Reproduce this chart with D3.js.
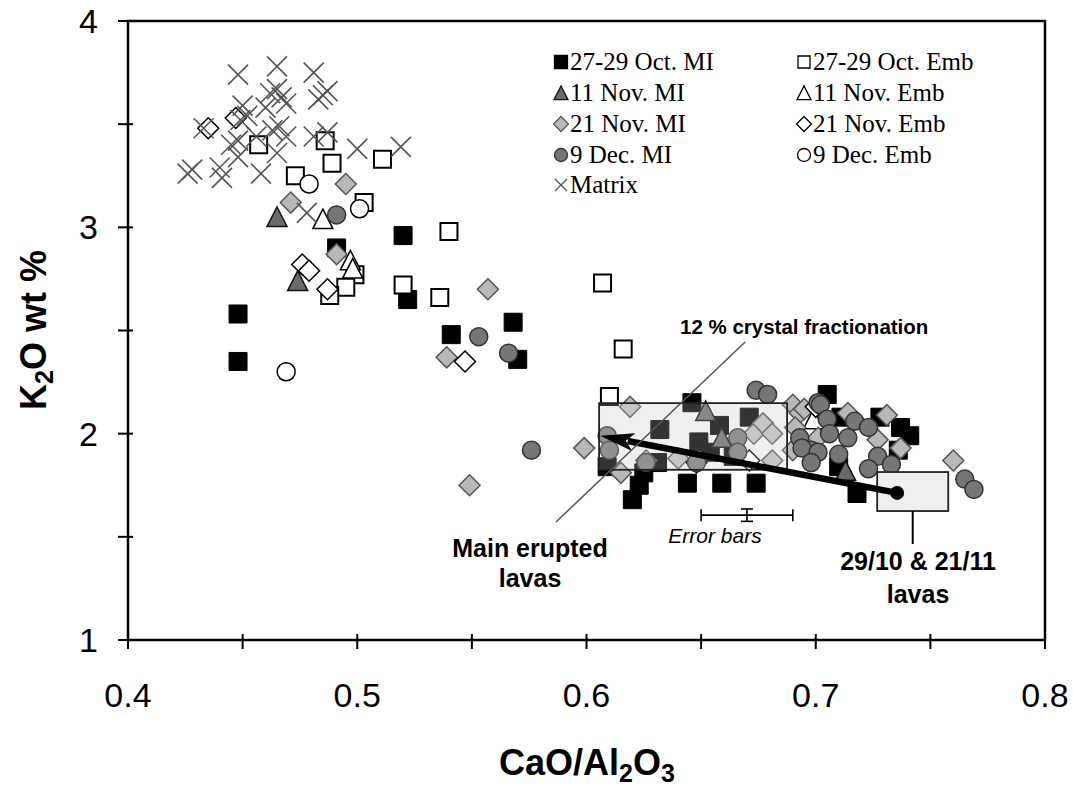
<!DOCTYPE html>
<html><head><meta charset="utf-8">
<script src="https://cdn.jsdelivr.net/npm/d3@7"></script>
<style>body{margin:0;background:#fff}</style>
</head><body><svg id="c" width="1073" height="788"></svg>
<script>
// ---- data (CaO/Al2O3, K2O wt %) ----
const octMI = [[0.448,2.58],[0.448,2.35],[0.491,2.90],[0.522,2.65],[0.520,2.96],[0.541,2.48],[0.568,2.54],[0.570,2.36],
 [0.609,1.84],[0.620,1.68],[0.623,1.75],[0.632,2.02],[0.646,2.15],[0.644,1.76],[0.659,1.76],[0.674,1.76],[0.671,2.08],[0.658,2.04],
 [0.649,1.96],[0.654,1.91],[0.664,1.89],[0.631,1.86],[0.625,1.81],[0.705,2.19],[0.718,1.71],[0.741,1.99],[0.737,2.03],[0.728,2.08],
 [0.736,1.92],[0.710,1.84],[0.711,2.08]];
const octEmb = [[0.457,3.40],[0.486,3.42],[0.473,3.25],[0.489,3.31],[0.511,3.33],[0.503,3.12],[0.499,2.77],[0.495,2.71],[0.488,2.67],
 [0.520,2.72],[0.536,2.66],[0.540,2.98],[0.607,2.73],[0.616,2.41],[0.610,2.18]];
const nov11MI = [[0.465,3.05],[0.474,2.74],[0.652,2.11],[0.659,1.98],[0.713,1.82]];
const nov11Emb = [[0.485,3.04],[0.497,2.84],[0.498,2.80],[0.699,2.07]];
const nov21MI = [[0.495,3.21],[0.471,3.12],[0.491,2.87],[0.539,2.37],[0.557,2.70],[0.549,1.75],[0.599,1.93],[0.619,2.13],
 [0.673,2.00],[0.677,2.05],[0.681,2.00],[0.681,1.87],[0.690,2.14],[0.693,2.10],[0.626,1.87],[0.615,1.81],[0.695,2.12],[0.691,2.03],
 [0.714,2.10],[0.731,2.09],[0.727,1.97],[0.737,1.93],[0.760,1.87],[0.701,1.98],[0.640,1.88],[0.690,1.92]];
const nov21Emb = [[0.435,3.48],[0.447,3.53],[0.476,2.82],[0.479,2.79],[0.487,2.70],[0.547,2.35],[0.648,1.86],[0.671,1.87],[0.700,2.13]];
const decMI = [[0.491,3.06],[0.553,2.47],[0.566,2.39],[0.576,1.92],
 [0.674,2.21],[0.679,2.19],[0.666,1.98],[0.609,1.99],[0.610,1.92],[0.626,1.86],[0.648,1.86],[0.666,1.91],[0.693,1.98],[0.698,1.92],
 [0.701,2.15],[0.702,2.14],[0.705,2.07],[0.706,2.00],[0.717,2.06],[0.723,2.03],[0.714,1.98],[0.694,1.93],[0.701,1.91],[0.710,1.90],
 [0.698,1.86],[0.727,1.89],[0.723,1.83],[0.733,1.85],[0.765,1.78],[0.769,1.73]];
const decEmb = [[0.479,3.21],[0.501,3.09],[0.469,2.30]];
const matrix = [[0.448,3.74],[0.465,3.78],[0.481,3.75],[0.483,3.62],[0.485,3.64],[0.487,3.66],[0.450,3.59],[0.462,3.65],[0.465,3.67],
 [0.467,3.63],[0.469,3.60],[0.460,3.58],[0.433,3.48],[0.449,3.52],[0.452,3.54],[0.445,3.40],[0.448,3.42],[0.456,3.44],[0.463,3.47],
 [0.466,3.49],[0.469,3.44],[0.481,3.44],[0.487,3.46],[0.500,3.38],[0.519,3.39],[0.426,3.26],[0.428,3.28],[0.441,3.24],[0.440,3.29],
 [0.448,3.34],[0.458,3.26],[0.465,3.36],[0.478,3.07]];
const seriesNames = ["27-29 Oct. MI","27-29 Oct. Emb","11 Nov. MI","11 Nov. Emb","21 Nov. MI","21 Nov. Emb","9 Dec. MI","9 Dec. Emb","Matrix"];
const xTicks = [0.4,0.5,0.6,0.7,0.8];
const yTicks = [1,2,3,4];
const xMinor = [0.45,0.55,0.65,0.75];
const yMinor = [1.5,2.5,3.5];
// annotation values
const mainLavas = {x0:0.6055, x1:0.6875, y0:1.825, y1:2.148};
const lavas2910 = {x0:0.7268, x1:0.7578, y0:1.625, y1:1.814};
const fracStart = [0.7355,1.713], fracEnd = [0.606,1.99];
const leader = [[0.6692,2.444],[0.5867,1.572]];
const errCenter = [0.670,1.605], errX = 0.02, errY = 0.03;

// ---- drawing ----
const svg = d3.select('#c');
const x = d3.scaleLinear().domain([0.4,0.8]).range([128,1045]);
const y = d3.scaleLinear().domain([1,4]).range([640,21]);
const SANS = "'Liberation Sans', Arial, sans-serif";
const SERIF = "'Liberation Serif', 'Times New Roman', serif";

function shape(type, s){
  const r = s/2;
  if(type==='square') return `M${-r},${-r}h${s}v${s}h${-s}Z`;
  if(type==='diamond') return `M0,${-r}L${r},0L0,${r}L${-r},0Z`;
  if(type==='triangle') return `M0,${-r}L${r},${r*0.95}L${-r},${r*0.95}Z`;
  if(type==='circle') return d3.symbol(d3.symbolCircle, Math.PI*r*r)();
  if(type==='cross') return `M${-r},${-r}L${r},${r}M${r},${-r}L${-r},${r}`;
}
const styles = [
  {data:octMI, type:'square', s:18, fill:'#000', stroke:'#000', sw:1, ls:13},
  {data:octEmb, type:'square', s:17, fill:'#fff', stroke:'#000', sw:2, ls:12},
  {data:nov11MI, type:'triangle', s:20, fill:'#6a6a6a', stroke:'#111', sw:1.5, ls:14},
  {data:nov11Emb, type:'triangle', s:20, fill:'#fff', stroke:'#000', sw:1.5, ls:14},
  {data:nov21MI, type:'diamond', s:21, fill:'#b8b8b8', stroke:'#555', sw:1.5, ls:15},
  {data:nov21Emb, type:'diamond', s:21, fill:'#fff', stroke:'#000', sw:1.5, ls:15},
  {data:decMI, type:'circle', s:18, fill:'#767676', stroke:'#333', sw:1.5, ls:13},
  {data:decEmb, type:'circle', s:18, fill:'#fff', stroke:'#000', sw:1.5, ls:13},
  {data:matrix, type:'cross', s:20, fill:'none', stroke:'#555', sw:1.6, ls:12}
];

// main erupted lavas box background
svg.append('rect').attr('x',x(mainLavas.x0)).attr('y',y(mainLavas.y1))
  .attr('width',x(mainLavas.x1)-x(mainLavas.x0)).attr('height',y(mainLavas.y0)-y(mainLavas.y1))
  .attr('fill','#ececec');

// points
styles.forEach(st=>{
  svg.append('g').selectAll('path').data(st.data).join('path')
    .attr('transform',d=>`translate(${x(d[0])},${y(d[1])})`)
    .attr('d',shape(st.type,st.s))
    .attr('fill',st.fill).attr('stroke',st.stroke).attr('stroke-width',st.sw);
});

// overlay of main lavas box
svg.append('rect').attr('x',x(mainLavas.x0)).attr('y',y(mainLavas.y1))
  .attr('width',x(mainLavas.x1)-x(mainLavas.x0)).attr('height',y(mainLavas.y0)-y(mainLavas.y1))
  .attr('fill','#fff').attr('fill-opacity',0.2).attr('stroke','#222').attr('stroke-width',1.8);

// 29/10 & 21/11 lavas box
svg.append('rect').attr('x',x(lavas2910.x0)).attr('y',y(lavas2910.y1))
  .attr('width',x(lavas2910.x1)-x(lavas2910.x0)).attr('height',y(lavas2910.y0)-y(lavas2910.y1))
  .attr('fill','#efefef').attr('stroke','#222').attr('stroke-width',1.8);
// leader from that box
svg.append('line').attr('x1',x((lavas2910.x0+lavas2910.x1)/2)).attr('x2',x((lavas2910.x0+lavas2910.x1)/2))
  .attr('y1',y(lavas2910.y0)).attr('y2',y(lavas2910.y0)+33).attr('stroke','#000').attr('stroke-width',2);

// fractionation arrow
{
  const sx=x(fracStart[0]), sy=y(fracStart[1]), ex=x(fracEnd[0]), ey=y(fracEnd[1]);
  const ang=Math.atan2(ey-sy, ex-sx);
  const L=34, hw=9;
  const bx=ex-L*Math.cos(ang), by=ey-L*Math.sin(ang);
  svg.append('line').attr('x1',sx).attr('y1',sy).attr('x2',bx+6*Math.cos(ang)).attr('y2',by+6*Math.sin(ang))
    .attr('stroke','#000').attr('stroke-width',6.5);
  const px=-Math.sin(ang), py=Math.cos(ang);
  svg.append('path').attr('d',`M${ex},${ey}L${bx+hw*px},${by+hw*py}L${bx+8*Math.cos(ang)},${by+8*Math.sin(ang)}L${bx-hw*px},${by-hw*py}Z`)
    .attr('fill','#000');
  svg.append('circle').attr('cx',sx).attr('cy',sy).attr('r',7).attr('fill','#000');
}
// leader line for 12 % label
svg.append('line').attr('x1',x(leader[0][0])).attr('y1',y(leader[0][1])).attr('x2',x(leader[1][0])).attr('y2',y(leader[1][1]))
  .attr('stroke','#555').attr('stroke-width',1.5);

// error bars
{
  const g=svg.append('g').attr('stroke','#000').attr('stroke-width',1.6);
  const cx=x(errCenter[0]), cy=y(errCenter[1]);
  const xl=x(errCenter[0]-errX), xr=x(errCenter[0]+errX);
  const yt=y(errCenter[1]+errY), yb=y(errCenter[1]-errY);
  g.append('line').attr('x1',xl).attr('x2',xr).attr('y1',cy).attr('y2',cy);
  g.append('line').attr('x1',xl).attr('x2',xl).attr('y1',cy-6).attr('y2',cy+6);
  g.append('line').attr('x1',xr).attr('x2',xr).attr('y1',cy-6).attr('y2',cy+6);
  g.append('line').attr('x1',cx).attr('x2',cx).attr('y1',yt).attr('y2',yb);
  g.append('line').attr('x1',cx-6).attr('x2',cx+6).attr('y1',yt).attr('y2',yt);
  g.append('line').attr('x1',cx-6).attr('x2',cx+6).attr('y1',yb).attr('y2',yb);
  svg.append('text').attr('x',cx-32).attr('y',yb+22).attr('text-anchor','middle')
    .attr('font-family',SANS).attr('font-style','italic').attr('font-size',21).text('Error bars');
}

// annotation texts
const ann = svg.append('g').attr('font-family',SANS).attr('font-weight','bold').attr('fill','#000');
ann.append('text').attr('x',680).attr('y',334).attr('font-size',20.5).text('12 % crystal fractionation');
ann.append('text').attr('x',530).attr('y',557).attr('text-anchor','middle').attr('font-size',25).text('Main erupted');
ann.append('text').attr('x',530).attr('y',587).attr('text-anchor','middle').attr('font-size',25).text('lavas');
ann.append('text').attr('x',918).attr('y',570).attr('text-anchor','middle').attr('font-size',25).text('29/10 & 21/11');
ann.append('text').attr('x',918).attr('y',603).attr('text-anchor','middle').attr('font-size',25).text('lavas');

// legend
{
  const lg = svg.append('g');
  const cols=[561,804], rows=[62,93,124,155,185];
  styles.forEach((st,i)=>{
    const cx = cols[i%2], cy = rows[Math.floor(i/2)];
    lg.append('path').attr('transform',`translate(${cx},${cy})`).attr('d',shape(st.type,st.ls))
      .attr('fill',st.fill).attr('stroke',st.stroke).attr('stroke-width',st.type==='cross'?1.4:1.3);
    lg.append('text').attr('x',cx+9).attr('y',cy+8).attr('font-family',SERIF).attr('font-size',25).text(seriesNames[i]);
  });
}

// axes & frame
{
  const g = svg.append('g').attr('stroke','#000');
  g.append('rect').attr('x',x(0.4)).attr('y',y(4)).attr('width',x(0.8)-x(0.4)).attr('height',y(1)-y(4))
    .attr('fill','none').attr('stroke-width',2.5);
  [...xTicks,...xMinor].forEach(t=>{
    g.append('line').attr('x1',x(t)).attr('x2',x(t)).attr('y1',y(1)-6).attr('y2',y(1)+9).attr('stroke-width',2);
  });
  [...yTicks,...yMinor].forEach(t=>{
    g.append('line').attr('y1',y(t)).attr('y2',y(t)).attr('x1',x(0.4)-10).attr('x2',x(0.4)+5).attr('stroke-width',2);
  });
  const tl = svg.append('g').attr('font-family',SANS).attr('font-size',34).attr('fill','#000');
  xTicks.forEach(t=>tl.append('text').attr('x',x(t)).attr('y',707).attr('text-anchor','middle').text(d3.format('.1f')(t)));
  yTicks.forEach(t=>tl.append('text').attr('x',98).attr('y',y(t)+12).attr('text-anchor','end').text(t));
  const xt = svg.append('text').attr('x',587).attr('y',775).attr('text-anchor','middle')
    .attr('font-family',SANS).attr('font-weight','bold').attr('font-size',36);
  xt.append('tspan').text('CaO/Al');
  xt.append('tspan').attr('font-size',25).attr('dy',7).text('2');
  xt.append('tspan').attr('dy',-7).text('O');
  xt.append('tspan').attr('font-size',25).attr('dy',7).text('3');
  const yt = svg.append('text').attr('transform','translate(46,330) rotate(-90)').attr('text-anchor','middle')
    .attr('font-family',SANS).attr('font-weight','bold').attr('font-size',36);
  yt.append('tspan').text('K');
  yt.append('tspan').attr('font-size',25).attr('dy',7).text('2');
  yt.append('tspan').attr('dy',-7).text('O wt %');
}
</script></body></html>
